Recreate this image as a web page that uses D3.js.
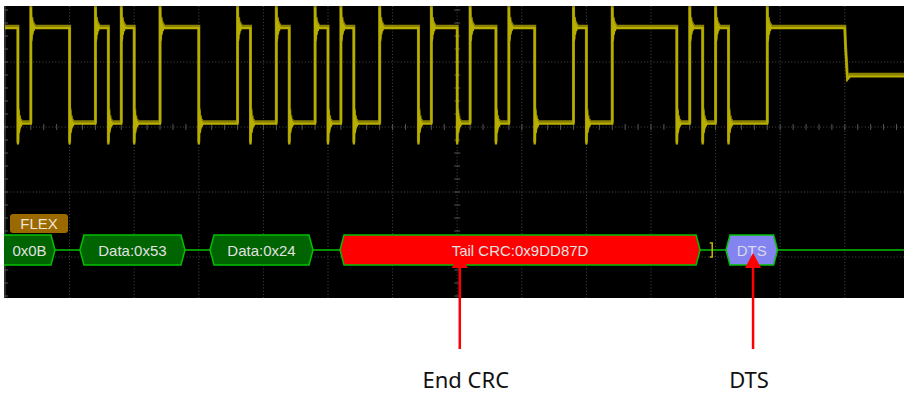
<!DOCTYPE html>
<html><head><meta charset="utf-8">
<script src="https://cdn.jsdelivr.net/npm/d3@7"></script>
<style>body{margin:0;background:#fff;} svg{display:block}</style>
</head><body><svg id="c" width="904" height="395"></svg>
<script>
// ---------- data ----------
const HI = 1.52, LO = 0.05, MID = 0.78;            // volts (1 V/div)
// edge times (µs) of the FlexRay bus signal (0.1 µs per bit)
const edgeTimes = [0.1,0.2,0.5,0.7,0.8,0.9,1.0,1.2,1.5,1.8,1.9,2.1,2.2,2.4,2.5,2.6,2.7,2.9,
                   3.2,3.3,3.5,3.6,3.8,3.9,4.1,4.4,4.5,4.7,5.2,5.3,5.4,5.5,5.6,5.9,6.5];
// level of each segment (first one before the first edge)
const segmentLevels = [HI,LO,HI,LO,HI,LO,HI,LO,HI,LO,HI,LO,HI,LO,HI,LO,HI,LO,
                       HI,LO,HI,LO,HI,LO,HI,LO,HI,LO,HI,LO,HI,LO,HI,LO,HI,MID];
// ringing after an edge: time offsets (µs) and amplitude (V, signed along the edge direction)
const ringTimes   = [0, 0.004, 0.008, 0.012, 0.016, 0.021, 0.026, 0.032];
const ringOffsets = [0.32, -0.2, 0.14, -0.1, 0.07, -0.04, 0.02, 0];

// decoded packets
const packetLabels = ["0x0B", "Data:0x53", "Data:0x24", "Tail CRC:0x9DD87D", "DTS"];
const packetStart  = [-0.1, 0.58, 1.587, 2.593, 5.58];
const packetEnd    = [0.387, 1.393, 2.384, 5.38, 5.98];
const packetKind   = ["data", "data", "data", "crc", "dts"];
const bracketTime  = 5.47;

// annotations
const annotLabels = ["End CRC", "DTS"];
const annotTimes  = [3.52, 5.79];

// ---------- layout ----------
const svg = d3.select("#c");
const scope = {x0: 4, x1: 904, y0: 6, y1: 298};
const x = d3.scaleLinear().domain([0, 7]).range([5, 909.4]);
const y = d3.scaleLinear().domain([0, 1]).range([127, 62]);

svg.append("rect").attr("x", scope.x0).attr("y", scope.y0)
  .attr("width", scope.x1 - scope.x0).attr("height", scope.y1 - scope.y0).attr("fill", "#000");
svg.append("clipPath").attr("id", "clip").append("rect")
  .attr("x", scope.x0).attr("y", scope.y0)
  .attr("width", scope.x1 - scope.x0).attr("height", scope.y1 - scope.y0);
const g = svg.append("g").attr("clip-path", "url(#clip)");

// grid
const gridColor = "#4a4a4a";
const vTimes = d3.range(0.5, 7, 0.5);
g.selectAll(".vg").data(vTimes).join("line")
  .attr("x1", d => x(d)).attr("x2", d => x(d)).attr("y1", scope.y0).attr("y2", scope.y1)
  .attr("stroke", gridColor).attr("stroke-dasharray", "1,2.2");
const hVolts = [1, 0, -1, -2];
g.selectAll(".hg").data(hVolts).join("line")
  .attr("y1", d => y(d)).attr("y2", d => y(d)).attr("x1", scope.x0).attr("x2", scope.x1)
  .attr("stroke", gridColor).attr("stroke-dasharray", "1,2.2");
// center ticks
const tTicks = d3.range(0, 7.01, 0.1);
g.selectAll(".tt").data(tTicks).join("line")
  .attr("x1", d => x(d)).attr("x2", d => x(d)).attr("y1", y(0) - 3).attr("y2", y(0) + 3)
  .attr("stroke", "#555").attr("stroke-width", 1);
const vTicks = d3.range(-2.6, 2.01, 0.2);
g.selectAll(".vt").data(vTicks).join("line")
  .attr("y1", d => y(d)).attr("y2", d => y(d)).attr("x1", x(3.5) - 3).attr("x2", x(3.5) + 3)
  .attr("stroke", "#555");
// left border ticks
g.append("line").attr("x1", scope.x0 + 1).attr("x2", scope.x0 + 1).attr("y1", scope.y0).attr("y2", scope.y1)
  .attr("stroke", "#3a3a3a").attr("stroke-width", 1.5);
g.selectAll(".lt").data(vTicks).join("line")
  .attr("y1", d => y(d)).attr("y2", d => y(d)).attr("x1", scope.x0).attr("x2", scope.x0 + 4)
  .attr("stroke", "#555");

// trace
const pts = [[0, segmentLevels[0]]];
edgeTimes.forEach((te, i) => {
  const from = segmentLevels[i], to = segmentLevels[i + 1];
  pts.push([te, from]);
  if (to === MID) {
    pts.push([te + 0.005, (from + to) / 2 + 0.1]);
    pts.push([te + 0.02, to - 0.05]);
    pts.push([te + 0.04, to]);
  } else {
    const dir = to > from ? 1 : -1;
    ringOffsets.forEach((o, k) => pts.push([te + ringTimes[k], to + dir * o]));
  }
});
pts.push([7, segmentLevels[segmentLevels.length - 1]]);
const line = d3.line().x(d => x(d[0])).y(d => y(d[1]));
const traceColor = "#b8ae00";
g.append("path").attr("d", line(pts)).attr("fill", "none")
  .attr("stroke", traceColor).attr("stroke-width", 3).attr("opacity", 0.75)
  .attr("transform", "translate(0,-2)");
g.append("path").attr("d", line(pts)).attr("fill", "none")
  .attr("stroke", traceColor).attr("stroke-width", 2.2);

// decode bus
const busY = 250, busH = 15, tip = 4;
g.append("line").attr("x1", scope.x0).attr("x2", scope.x1).attr("y1", busY).attr("y2", busY)
  .attr("stroke", "#00c000").attr("stroke-width", 1.5);
const fills = {data: "#006400", crc: "#ff0000", dts: "#8484f0"};
packetLabels.forEach((lab, i) => {
  const a = x(packetStart[i]), b = x(packetEnd[i]);
  const p = `M${a},${busY} L${a + tip},${busY - busH} L${b - tip},${busY - busH} L${b},${busY} L${b - tip},${busY + busH} L${a + tip},${busY + busH} Z`;
  g.append("path").attr("d", p).attr("fill", fills[packetKind[i]])
    .attr("stroke", "#00c000").attr("stroke-width", 1.5);
  const cx = (Math.max(a, scope.x0) + b) / 2;
  g.append("text").attr("x", cx).attr("y", busY + 5.5).attr("text-anchor", "middle")
    .attr("font-family", "Liberation Sans, Arial, sans-serif").attr("font-size", 15)
    .attr("fill", packetKind[i] === "dts" ? "#d8d8ee" : "#e2e2e2").text(lab);
});
// bracket
const bx = x(bracketTime);
g.append("path").attr("d", `M${bx - 2},${busY - 7} H${bx + 0.5} V${busY + 7} H${bx - 2}`)
  .attr("fill", "none").attr("stroke", "#c8b400").attr("stroke-width", 1.5);

// FLEX label
g.append("rect").attr("x", 10).attr("y", 214).attr("width", 58).attr("height", 19).attr("rx", 3)
  .attr("fill", "#9a6a00");
g.append("text").attr("x", 39).attr("y", 229).attr("text-anchor", "middle")
  .attr("font-family", "Liberation Sans, Arial, sans-serif").attr("font-size", 15)
  .attr("fill", "#eee6d0").text("FLEX");

// annotations
annotLabels.forEach((lab, i) => {
  const ax = x(annotTimes[i]);
  svg.append("line").attr("x1", ax).attr("x2", ax).attr("y1", 266).attr("y2", 349)
    .attr("stroke", "#ff0000").attr("stroke-width", 2.5);
  svg.append("path").attr("d", `M${ax},253 L${ax + 8},268 L${ax - 8},268 Z`).attr("fill", "#ff0000");
  svg.append("text").attr("x", ax + (i === 0 ? 6 : -4)).attr("y", 388).attr("text-anchor", "middle")
    .attr("font-family", "Noto Sans, sans-serif").attr("font-size", 22)
    .attr("fill", "#111").text(lab);
});
</script></body></html>
